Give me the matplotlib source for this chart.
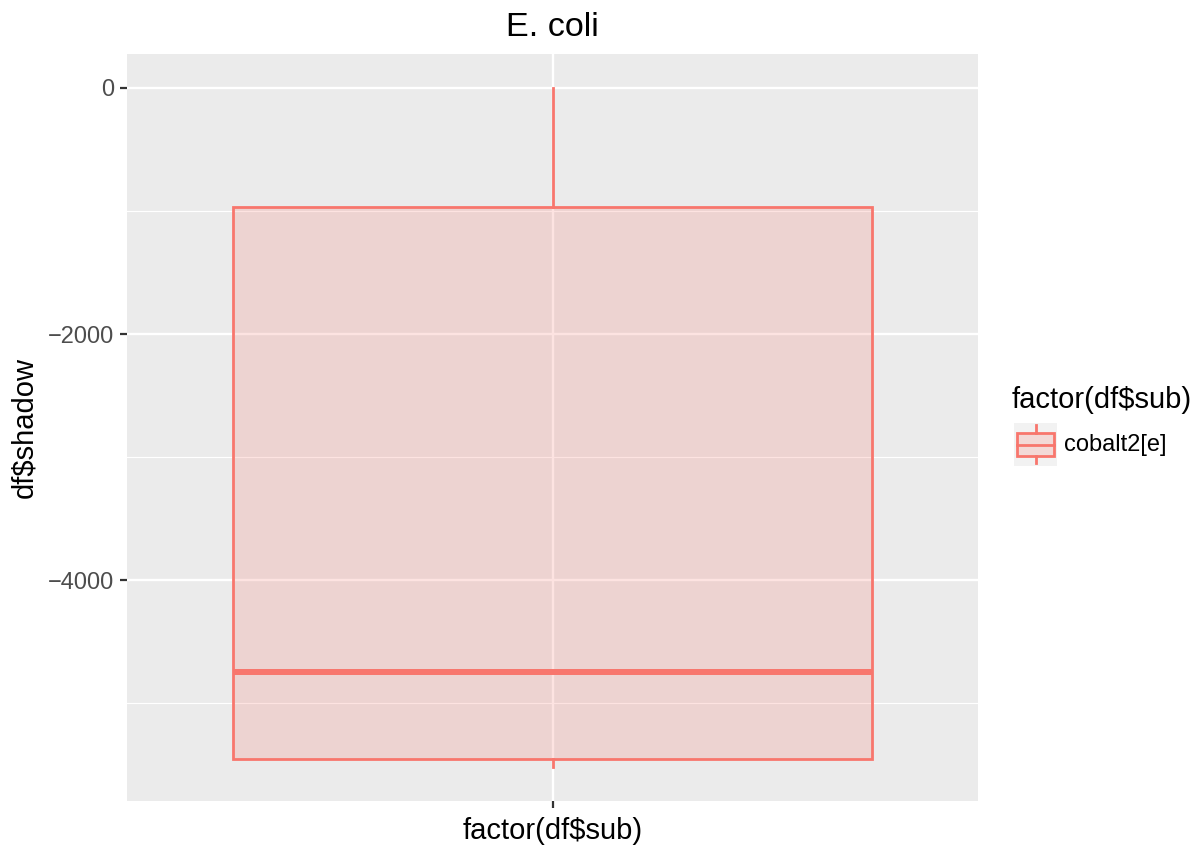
import matplotlib
matplotlib.use("Agg")
import matplotlib.pyplot as plt
from matplotlib.patches import Rectangle
from matplotlib.lines import Line2D

plt.rcParams['font.family'] = ['Liberation Sans', 'DejaVu Sans']

# data
categories = ["cobalt2[e]"]
q_min = [-5519]
q1 = [-5450]
median = [-4750]
q3 = [-970]
q_max = [0]
yticks = [0, -2000, -4000]
ytick_labels = ["0", "\u22122000", "\u22124000"]
title = "E. coli"
xlabel = "factor(df$sub)"
ylabel = "df$shadow"
legend_title = "factor(df$sub)"

col = "#F8766D"
fillc = (248/255, 118/255, 109/255, 0.2)

W, H = 1199, 851
PL, PT, PR, PB = 127, 54, 978, 801
fig = plt.figure(figsize=(W/100, H/100), dpi=100)
ax = fig.add_axes([PL/W, 1 - PB/H, (PR-PL)/W, (PB-PT)/H])
ax.set_facecolor("#EBEBEB")
for s in ax.spines.values():
    s.set_visible(False)

lo = min(q_min); hi = max(q_max)
pad = (hi - lo) * 0.05
ax.set_ylim(lo - pad, hi + pad)
ax.set_xlim(0.4, 1.6)

# grid
ax.set_yticks(yticks)
ax.set_yticklabels(ytick_labels)
minor = [(yticks[i] + yticks[i+1]) / 2 for i in range(len(yticks)-1)]
minor += [yticks[-1] - 1000]
ax.set_yticks(minor, minor=True)
ax.grid(True, which='major', color='white', linewidth=1.7)
ax.grid(True, which='minor', axis='y', color='white', linewidth=0.85)
ax.set_axisbelow(True)
ax.tick_params(axis='both', which='major', length=5.2, width=1.6, color='#333333',
               labelsize=17, labelcolor='#4D4D4D', pad=4)
ax.tick_params(axis='y', which='minor', length=0)

stats = []
for i, c in enumerate(categories):
    stats.append(dict(med=median[i], q1=q1[i], q3=q3[i], whislo=q_min[i], whishi=q_max[i], fliers=[], label=c))
ax.bxp(stats, positions=[1], widths=0.9, patch_artist=True, showcaps=False,
       boxprops=dict(facecolor=fillc, edgecolor=col, linewidth=2.0),
       whiskerprops=dict(color=col, linewidth=2.0),
       medianprops=dict(color=col, linewidth=4.3, solid_capstyle='butt'),
       manage_ticks=False)
ax.set_xticks([1])
ax.set_xticklabels([""])

ax.set_xlabel(xlabel, fontsize=21, color='black')
ax.xaxis.set_label_coords(0.5, -(817 - PB) / (PB - PT))
ax.set_ylabel(ylabel, fontsize=21, color='black')
ax.yaxis.set_label_coords(-(PL - 38) / (PR - PL), 0.5)
ax.set_title(title, fontsize=24.6, color='black', pad=13)

# legend
fig.text(1012/W, 1 - 400/H, legend_title, fontsize=21, va='center', ha='left')
kx0, ky0, kw, kh = 1014, 423, 43, 43
fig.patches.append(Rectangle((kx0/W, 1-(ky0+kh)/H), kw/W, kh/H, transform=fig.transFigure,
                             facecolor='#F2F2F2', edgecolor='none'))
bx0, bx1 = 1017, 1054
by0, by1 = 433, 456
fig.patches.append(Rectangle((bx0/W, 1-by1/H), (bx1-bx0)/W, (by1-by0)/H, transform=fig.transFigure,
                             facecolor=fillc, edgecolor=col, linewidth=2.0))
cx = (bx0 + bx1) / 2
fig.lines.append(Line2D([bx0/W, bx1/W], [1-445/H]*2, transform=fig.transFigure, color=col, linewidth=2.0))
fig.lines.append(Line2D([cx/W]*2, [1-425/H, 1-by0/H], transform=fig.transFigure, color=col, linewidth=2.0))
fig.lines.append(Line2D([cx/W]*2, [1-by1/H, 1-463/H], transform=fig.transFigure, color=col, linewidth=2.0))
fig.text(1064/W, 1 - 445/H, categories[0], fontsize=17, va='center', ha='left')

fig.savefig("out.png", dpi=100)
